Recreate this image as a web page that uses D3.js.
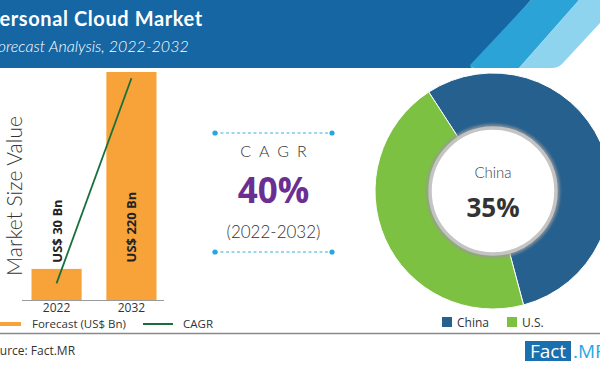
<!DOCTYPE html>
<html><head><meta charset="utf-8">
<script src="https://cdn.jsdelivr.net/npm/d3@7"></script>
<style>
html,body{margin:0;padding:0;background:#fff;}
svg{display:block;}
</style></head>
<body>
<svg id="chart" width="600" height="366"></svg>
<script>
const years = ["2022", "2032"];
const marketValues = [30, 220];
const barLabels = ["US$ 30 Bn", "US$ 220 Bn"];
const cagrLine = [16, 214];
const regions = ["China", "U.S."];
const regionShares = [55, 45];
const regionColors = ["#25608f", "#7dc142"];
const cagrValue = "40%";
const centerLabel = "China";
const centerValue = "35%";

const svg = d3.select("#chart");
const W = 600, H = 366;
const sans = "'Open Sans','Noto Sans',sans-serif";

// Header
svg.append("rect").attr("x",0).attr("y",0).attr("width",W).attr("height",H).attr("fill","#fff");
svg.append("path").attr("d","M0,0 L531,0 L471,68 L0,68 Z").attr("fill","#1566a3");
svg.append("path").attr("d","M531,0 L579,0 L519,68 L475,68 Q468,68 471,64 Z").attr("fill","#2ca3d7");
svg.append("path").attr("d","M579,0 L600,0 L600,23 L562,64 Q558,68 552,68 L519,68 Z").attr("fill","#8fd4ef");

svg.append("text").attr("x",-13).attr("y",26).text("Personal Cloud Market")
  .attr("font-family","'Lato','Open Sans',sans-serif").attr("font-weight",700).attr("font-size",20).attr("letter-spacing",0.6).attr("fill","#fff");
svg.append("text").attr("x",-10).attr("y",52).text("Forecast Analysis, 2022-2032")
  .attr("font-family","'Lato','Open Sans',sans-serif").attr("font-style","italic").attr("font-weight",300).attr("font-size",16).attr("fill","#fff");

// Bar chart
const x = d3.scaleBand().domain(years).range([24,164]).paddingInner(0.33).paddingOuter(0.1);
const y = d3.scaleLinear().domain([0,220]).range([300,72]);

svg.selectAll("rect.bar").data(years).join("rect").attr("class","bar")
  .attr("x",d=>x(d)).attr("width",x.bandwidth())
  .attr("y",(d,i)=>y(marketValues[i])).attr("height",(d,i)=>y(0)-y(marketValues[i]))
  .attr("fill","#f8a33a");

svg.append("line").attr("x1",22).attr("x2",164).attr("y1",y(0)+0.5).attr("y2",y(0)+0.5)
  .attr("stroke","#9a9a9a").attr("stroke-width",1);

const xAxis = d3.axisBottom(x).tickSize(0).tickPadding(3);
const gx = svg.append("g").attr("transform",`translate(0,${y(0)})`).call(xAxis);
gx.select(".domain").remove();
gx.selectAll("text").attr("font-family",sans).attr("font-size",12).attr("fill","#333");

// CAGR line
const line = d3.line().x((d,i)=>x(years[i])+x.bandwidth()/2).y(d=>y(d));
svg.append("path").datum(cagrLine).attr("d",line).attr("fill","none").attr("stroke","#17703c").attr("stroke-width",1.8);

// bar labels
years.forEach((yr,i)=>{
  const cx = x(yr)+x.bandwidth()/2;
  svg.append("text").attr("transform",`translate(${cx+5},${i===0?231:227}) rotate(-90)`)
    .attr("text-anchor","middle").text(barLabels[i])
    .attr("font-family",sans).attr("font-weight",700).attr("font-size",13).attr("fill","#222");
});

svg.append("text").attr("transform","translate(22,196) rotate(-90)").attr("text-anchor","middle")
  .text("Market Size Value").attr("font-family","'Lato','Open Sans',sans-serif").attr("font-weight",300)
  .attr("font-size",21).attr("fill","#333");

// Legend left
svg.append("line").attr("x1",0).attr("x2",21).attr("y1",324).attr("y2",324).attr("stroke","#f8a33a").attr("stroke-width",4);
svg.append("text").attr("x",32).attr("y",328).text("Forecast (US$ Bn)").attr("font-family",sans).attr("font-size",11.5).attr("fill","#333");
svg.append("line").attr("x1",143).attr("x2",173).attr("y1",324).attr("y2",324).attr("stroke","#17703c").attr("stroke-width",2);
svg.append("text").attr("x",183).attr("y",328).text("CAGR").attr("font-family",sans).attr("font-size",11.5).attr("fill","#333");

// CAGR block
const cx0 = 273.5;
[133,252].forEach(yy=>{
  svg.append("line").attr("x1",215).attr("x2",332).attr("y1",yy).attr("y2",yy)
    .attr("stroke","#3bb0e4").attr("stroke-width",1.2).attr("stroke-dasharray","3,2.5");
  [215,332].forEach(xx=>svg.append("circle").attr("cx",xx).attr("cy",yy).attr("r",2.6).attr("fill","#27a6e2"));
});
svg.append("text").attr("x",cx0+4).attr("y",157).attr("text-anchor","middle").text("CAGR")
  .attr("font-family","'Lato','Open Sans',sans-serif").attr("font-weight",300).attr("font-size",16).attr("letter-spacing",8).attr("fill","#333");
svg.append("text").attr("x",cx0).attr("y",203).attr("text-anchor","middle").text(cagrValue)
  .attr("font-family","'Open Sans',sans-serif").attr("font-weight",700).attr("font-size",35).attr("fill","#6b2f93");
svg.append("text").attr("x",cx0).attr("y",238).attr("text-anchor","middle").text("(2022-2032)")
  .attr("font-family","'Lato','Open Sans',sans-serif").attr("font-weight",300).attr("font-size",17).attr("fill","#333");

// Donut
const dcx = 493, dcy = 191, R = 118, r = 60;
const pie = d3.pie().sort(null).startAngle(-33*Math.PI/180).endAngle(-33*Math.PI/180+2*Math.PI);
const arc = d3.arc().innerRadius(r).outerRadius(R);
const dg = svg.append("g").attr("transform",`translate(${dcx},${dcy})`);
dg.selectAll("path").data(pie(regionShares)).join("path").attr("d",arc)
  .attr("fill",(d,i)=>regionColors[i]).attr("stroke","#fff").attr("stroke-width",1);
const defs = svg.append("defs");
const f = defs.append("filter").attr("id","sh").attr("x","-20%").attr("y","-20%").attr("width","140%").attr("height","140%");
f.append("feGaussianBlur").attr("stdDeviation",1.5);
dg.append("circle").attr("r",65).attr("fill","none").attr("stroke","#999").attr("stroke-width",3).attr("filter","url(#sh)");
dg.append("circle").attr("r",63).attr("fill","#fff").attr("stroke","#c4c4c4").attr("stroke-width",3.5);
dg.append("text").attr("y",-13).attr("text-anchor","middle").text(centerLabel)
  .attr("font-family","'Lato','Open Sans',sans-serif").attr("font-weight",300).attr("font-size",15).attr("fill","#444");
dg.append("text").attr("y",26).attr("text-anchor","middle").text(centerValue)
  .attr("font-family","'Open Sans',sans-serif").attr("font-weight",700).attr("font-size",26).attr("fill","#333");

// Donut legend
const lx = [442, 507];
regions.forEach((rg,i)=>{
  svg.append("rect").attr("x",lx[i]).attr("y",317).attr("width",10).attr("height",10).attr("fill",regionColors[i]);
  svg.append("text").attr("x",lx[i]+15).attr("y",327).text(rg).attr("font-family",sans).attr("font-size",12).attr("fill","#333");
});

// Footer
svg.append("line").attr("x1",0).attr("x2",W).attr("y1",333.5).attr("y2",333.5).attr("stroke","#8a8a8a").attr("stroke-width",1.5);
svg.append("text").attr("x",-14).attr("y",355).text("Source: Fact.MR").attr("font-family",sans).attr("font-size",12).attr("fill","#333");
svg.append("rect").attr("x",525).attr("y",341).attr("width",46).attr("height",20).attr("fill","#1a6fae");
svg.append("text").attr("x",548).attr("y",358).attr("text-anchor","middle").text("Fact").attr("font-family",sans).attr("font-size",19).attr("fill","#fff");
svg.append("text").attr("x",573).attr("y",358).text(".MR").attr("font-family",sans).attr("font-size",19).attr("fill","#29a8e0");
</script>
</body></html>
